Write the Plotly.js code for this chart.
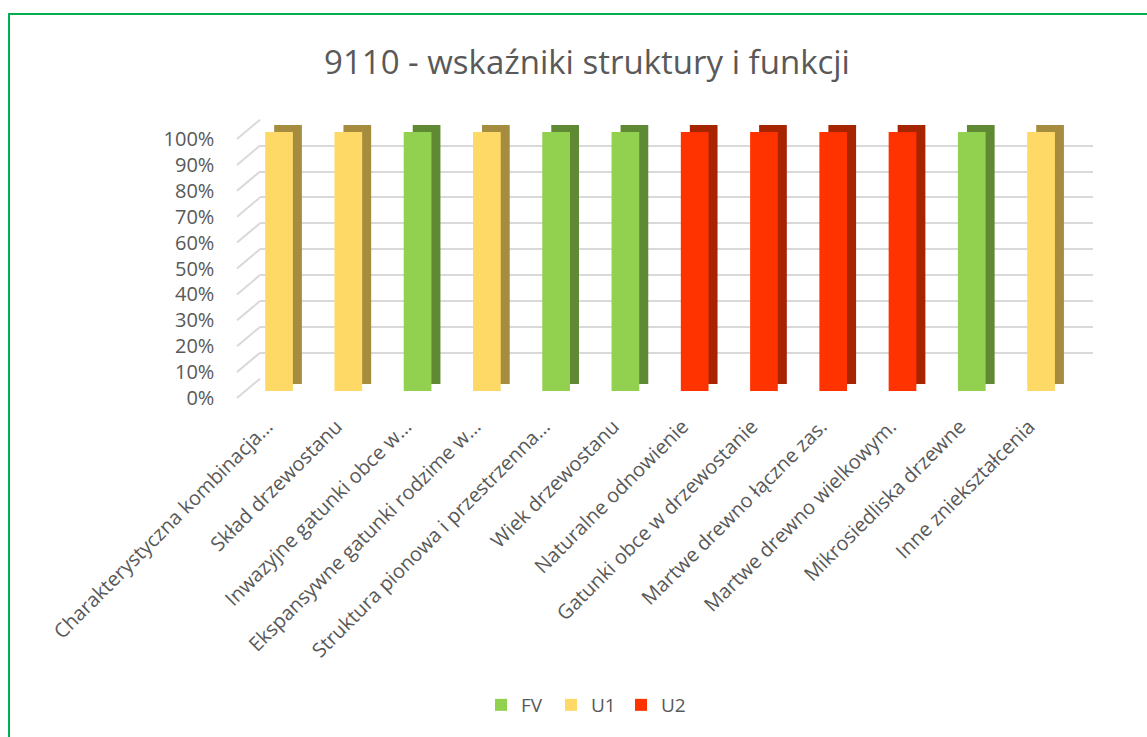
<!DOCTYPE html>
<html>
<head>
<meta charset="utf-8">
<script src="https://cdn.plot.ly/plotly-3.0.1.min.js"></script>
<style>html,body{margin:0;padding:0;background:#fff;}</style>
</head>
<body>
<div id="chart" style="width:1147px;height:737px;"></div>
<script>
// ---- data ----
const categories = [
  "Charakterystyczna kombinacja…",
  "Skład drzewostanu",
  "Inwazyjne gatunki obce w…",
  "Ekspansywne gatunki rodzime w…",
  "Struktura pionowa i przestrzenna…",
  "Wiek drzewostanu",
  "Naturalne odnowienie",
  "Gatunki obce w drzewostanie",
  "Martwe drewno łączne zas.",
  "Martwe drewno wielkowym.",
  "Mikrosiedliska drzewne",
  "Inne zniekształcenia"
];
const seriesNames = ["FV", "U1", "U2"];
const fvValues = [null, null, 100, null, 100, 100, null, null, null, null, 100, null];
const u1Values = [100, 100, null, 100, null, null, null, null, null, null, null, 100];
const u2Values = [null, null, null, null, null, null, 100, 100, 100, 100, null, null];
const yTickValues = [0, 10, 20, 30, 40, 50, 60, 70, 80, 90, 100];
const yTickLabels = ["0%", "10%", "20%", "30%", "40%", "50%", "60%", "70%", "80%", "90%", "100%"];
const chartTitle = "9110 - wskaźniki struktury i funkcji";

// ---- styling / geometry ----
const W = 1147, H = 737;
const px = x => x / W;
const py = y => 1 - y / H;
const frontColors = ["#92d050", "#ffd966", "#ff3300"];
const sideColors = ["#5f8a33", "#a68c3f", "#a62400"];
const font = "Open Sans, Segoe UI, sans-serif";
const textColor = "#595959";
const gridColor = "#d9d9d9";

const allValues = [fvValues, u1Values, u2Values];
const traces = [];
// back wall (grid only) subplot: needs a trace so the axes are drawn
traces.push({type: "scatter", x: [categories[0]], y: [null], xaxis: "x", yaxis: "y",
  showlegend: false, hoverinfo: "skip"});
// side/top faces (drawn behind, shifted up-right)
allValues.forEach((vals, i) => {
  traces.push({type: "bar", x: categories, y: vals, xaxis: "x2", yaxis: "y2",
    width: 0.4, marker: {color: sideColors[i], line: {width: 0}},
    showlegend: false, hoverinfo: "skip", cliponaxis: false});
});
// front faces
allValues.forEach((vals, i) => {
  traces.push({type: "bar", name: seriesNames[i], x: categories, y: vals, xaxis: "x3", yaxis: "y3",
    width: 0.4, marker: {color: frontColors[i], line: {width: 0}}, cliponaxis: false});
});

const hidden = {showgrid: false, zeroline: false, showline: false, showticklabels: false, ticks: ""};
const catAxisBase = {type: "category", categoryarray: categories, range: [-0.5, 11.5]};

// diagonal gridline segments (wall side) from each tick
const wallDepth = (398 - 378.7) / 259;
const shapes = yTickValues.map(v => ({
  type: "line", xref: "paper", yref: "y domain",
  x0: px(237), y0: v / 100 - wallDepth, x1: px(260), y1: v / 100,
  line: {color: gridColor, width: 2}, layer: "below"
}));
shapes.push({type: "rect", xref: "paper", yref: "paper",
  x0: px(9), x1: 1.05, y0: -0.05, y1: py(14),
  line: {color: "#00b050", width: 2}, fillcolor: "rgba(0,0,0,0)"});

const layout = {
  width: W, height: H,
  margin: {l: 0, r: 0, t: 0, b: 0},
  paper_bgcolor: "#ffffff", plot_bgcolor: "rgba(0,0,0,0)",
  font: {family: font, color: textColor},
  barmode: "overlay",
  showlegend: true,
  title: {text: chartTitle, font: {family: font, size: 33, color: textColor},
    x: px(587), xanchor: "center", xref: "paper", y: py(62), yanchor: "middle", yref: "paper"},
  xaxis: Object.assign({}, hidden, catAxisBase, {domain: [px(260), px(1093)], anchor: "y"}),
  yaxis: {domain: [py(378.7), py(119.7)], range: [0, 100], anchor: "x",
    showgrid: true, gridcolor: gridColor, gridwidth: 2, tickvals: yTickValues,
    zeroline: false, showline: false, showticklabels: false, ticks: ""},
  xaxis2: Object.assign({}, hidden, catAxisBase, {domain: [px(253.4), px(1084.7)], anchor: "y2"}),
  yaxis2: Object.assign({}, hidden, {domain: [py(384), py(125)], range: [0, 100], anchor: "x2"}),
  xaxis3: Object.assign({}, catAxisBase, {domain: [px(244.4), px(1075.7)], anchor: "y3",
    showgrid: false, zeroline: false, showline: false, ticks: "",
    tickangle: -45, tickfont: {family: font, size: 20, color: textColor},
    ticklabelstandoff: 19, ticklabelshift: -12}),
  yaxis3: {domain: [py(391), py(132)], range: [0, 100], anchor: "x3",
    showgrid: false, zeroline: false, showline: false, ticks: "",
    tickvals: yTickValues, ticktext: yTickLabels,
    tickfont: {family: font, size: 20, color: textColor},
    ticklabelshift: 7, ticklabelstandoff: 29},
  legend: {orientation: "h", x: px(586), xanchor: "center", y: py(705), yanchor: "middle",
    font: {family: font, size: 19, color: textColor}, itemwidth: 30,
    entrywidth: 25, entrywidthmode: "pixels"},
  shapes: shapes
};

Plotly.newPlot("chart", traces, layout, {displayModeBar: false, staticPlot: true});
</script>
</body>
</html>
